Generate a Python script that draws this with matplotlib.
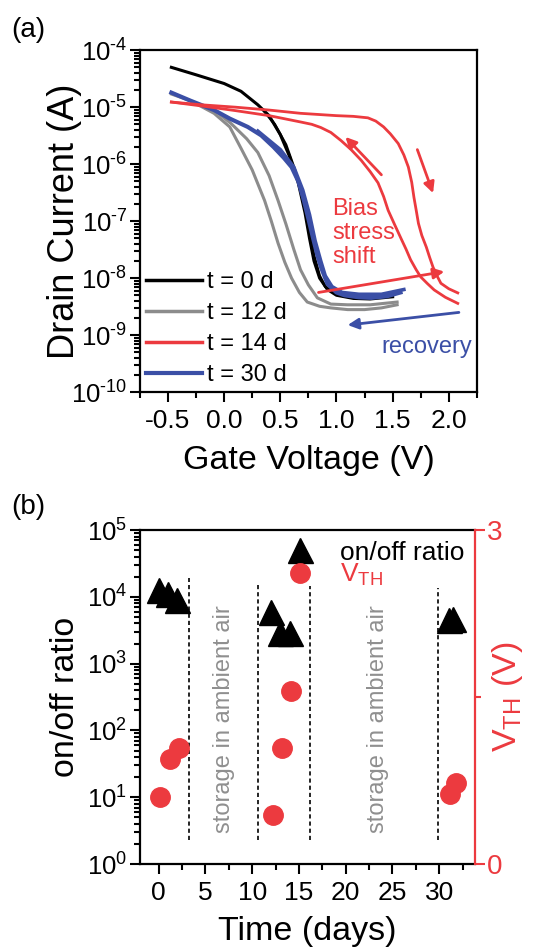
import numpy as np
import matplotlib.pyplot as plt
from matplotlib.lines import Line2D
from matplotlib.ticker import LogLocator, MultipleLocator, NullFormatter, FixedLocator, FuncFormatter

plt.rcParams['font.family'] = ['Liberation Sans', 'DejaVu Sans']
plt.rcParams['mathtext.fontset'] = 'custom'
plt.rcParams['mathtext.rm'] = 'Liberation Sans'
plt.rcParams['mathtext.it'] = 'Liberation Sans:italic'
plt.rcParams['mathtext.bf'] = 'Liberation Sans:bold'

BLACK = '#000000'
GRAY = '#8c8c8c'
RED = '#ec3a3f'
BLUE = '#3b4fa6'

# ---- panel (a): transfer curves, gate voltage (V) / drain current (A) ----
v_t0_a = [-0.47, -0.25, 0.0, 0.15, 0.3, 0.4, 0.5, 0.58, 0.66, 0.72, 0.76, 0.8, 0.85, 0.92, 1.0, 1.15, 1.3, 1.5]
i_t0_a = [5.0e-5, 3.7e-5, 2.6e-5, 1.9e-5, 1.1e-5, 7.1e-6, 3.3e-6, 1.4e-6, 4.7e-7, 1.4e-7,
          5.0e-8, 2.0e-8, 1.0e-8, 6.3e-9, 5.0e-9, 4.4e-9, 4.3e-9, 4.7e-9]
v_t0_b = [0.35, 0.45, 0.55, 0.63, 0.7, 0.76, 0.8, 0.85, 0.9, 1.0, 1.2, 1.5]
i_t0_b = [8.9e-6, 5.0e-6, 2.2e-6, 7.9e-7, 2.5e-7, 7.1e-8, 2.5e-8, 1.1e-8, 7.1e-9, 5.2e-9, 4.7e-9, 5.0e-9]

v_t12_a = [-0.47, -0.3, -0.09, 0.05, 0.15, 0.25, 0.36, 0.42, 0.48, 0.54, 0.6, 0.67, 0.74, 0.85, 0.95,
           1.1, 1.25, 1.4, 1.54]
i_t12_a = [1.7e-5, 1.3e-5, 7.8e-6, 4.5e-6, 1.9e-6, 7.9e-7, 2.3e-7, 1.0e-7, 4.1e-8, 1.9e-8, 1.0e-8,
           5.6e-9, 3.8e-9, 3.2e-9, 3.0e-9, 2.8e-9, 2.8e-9, 3.0e-9, 3.4e-9]
v_t12_b = [-0.09, 0.06, 0.2, 0.3, 0.4, 0.48, 0.55, 0.62, 0.68, 0.75, 0.83, 0.95, 1.1, 1.3, 1.54]
i_t12_b = [8.9e-6, 5.2e-6, 2.8e-6, 1.6e-6, 6.3e-7, 2.3e-7, 8.9e-8, 3.2e-8, 1.4e-8, 7.6e-9, 4.5e-9,
           3.5e-9, 3.4e-9, 3.4e-9, 3.8e-9]

v_t14_fwd = [-0.47, -0.2, 0.1, 0.4, 0.68, 1.0, 1.15, 1.28, 1.35, 1.42, 1.48, 1.55, 1.6, 1.64, 1.67,
             1.69, 1.71, 1.73, 1.76, 1.80, 1.83, 1.86, 1.9, 1.93, 2.0, 2.08]
i_t14_fwd = [1.23e-5, 1.1e-5, 1.0e-5, 8.9e-6, 7.8e-6, 7.1e-6, 6.9e-6, 6.5e-6, 5.7e-6, 4.5e-6, 3.4e-6,
             2.3e-6, 1.45e-6, 8.9e-7, 4.8e-7, 2.6e-7, 1.55e-7, 9.1e-8, 5.6e-8, 3.5e-8, 2.3e-8, 1.55e-8,
             1.05e-8, 8.1e-9, 6.5e-9, 5.5e-9]
v_t14_rev = [-0.47, -0.2, 0.1, 0.4, 0.68, 0.78, 0.86, 0.95, 1.04, 1.13, 1.22, 1.3, 1.37, 1.42, 1.46,
             1.52, 1.57, 1.62, 1.66, 1.71, 1.75, 1.81, 1.87, 1.97, 2.08]
i_t14_rev = [1.23e-5, 1.05e-5, 8.7e-6, 7.1e-6, 5.5e-6, 5.0e-6, 4.4e-6, 3.6e-6, 2.6e-6, 1.8e-6, 1.17e-6,
             7.4e-7, 4.7e-7, 2.7e-7, 1.55e-7, 8.5e-8, 5.2e-8, 3.2e-8, 2.1e-8, 1.4e-8, 1.05e-8, 8.0e-9,
             6.2e-9, 4.6e-9, 3.6e-9]

v_t30_a = [-0.47, -0.3, -0.09, 0.05, 0.21, 0.33, 0.44, 0.53, 0.6, 0.66, 0.71, 0.75, 0.79, 0.83, 0.86,
           0.92, 1.0, 1.07, 1.2, 1.31, 1.45, 1.57]
i_t30_a = [1.8e-5, 1.3e-5, 8.9e-6, 6.3e-6, 4.5e-6, 3.2e-6, 2.0e-6, 1.3e-6, 8.9e-7, 5.0e-7, 2.3e-7,
           1.1e-7, 5.2e-8, 2.5e-8, 1.6e-8, 7.9e-9, 5.6e-9, 5.0e-9, 4.6e-9, 4.5e-9, 4.8e-9, 5.6e-9]
v_t30_b = [0.3, 0.5, 0.62, 0.7, 0.76, 0.81, 0.86, 0.9, 0.96, 1.05, 1.2, 1.4, 1.6]
i_t30_b = [3.8e-6, 1.8e-6, 8.9e-7, 3.5e-7, 1.3e-7, 4.5e-8, 2.0e-8, 1.1e-8, 7.1e-9, 5.6e-9, 5.2e-9,
           5.2e-9, 6.3e-9]

legend_a = ['t = 0 d', 't = 12 d', 't = 14 d', 't = 30 d']

# arrows (tail -> head) in data coords
arrow_rev = [(1.40, 6.5e-7), (1.08, 3.0e-6)]
arrow_fwd = [(1.72, 1.8e-6), (1.86, 3.1e-7)]
arrow_shift = [(0.84, 5.6e-9), (1.96, 1.3e-8)]
arrow_recovery = [(2.09, 2.5e-9), (1.1, 1.5e-9)]

# ---- panel (b): on/off ratio and threshold voltage vs. storage time ----
t_ratio = [0.0, 1.0, 2.0, 12.0, 13.0, 14.0, 31.0, 31.5]
onoff_ratio = [1.25e4, 1.1e4, 8.9e3, 5.9e3, 2.9e3, 2.9e3, 4.5e3, 4.7e3]
t_vth = [0.2, 1.2, 2.2, 12.2, 13.2, 14.2, 31.2, 31.8]
vth = [0.60, 0.94, 1.04, 0.44, 1.04, 1.55, 0.63, 0.73]
storage_bounds = [3.3, 10.6, 16.2, 29.9]
storage_tops = [1.9e4, 1.6e4, 1.45e4, 1.35e4]
storage_text_x = [7.0, 23.5]


def pow10(v, pos):
    e = int(round(np.log10(v)))
    if e < 0:
        return r'$\mathregular{10^{\text{-}%d}}$' % (-e)
    return r'$\mathregular{10^{%d}}$' % e


fig = plt.figure(figsize=(5.34, 9.47), dpi=100)

# ------------------------------------------------------------- (a)
ax = fig.add_axes([0.262, 0.586, 0.631, 0.361])
ax.plot(v_t12_a, i_t12_a, color=GRAY, lw=2.2)
ax.plot(v_t12_b, i_t12_b, color=GRAY, lw=2.2)
ax.plot(v_t0_a, i_t0_a, color=BLACK, lw=2.2)
ax.plot(v_t0_b, i_t0_b, color=BLACK, lw=2.0)
ax.plot(v_t30_a, i_t30_a, color=BLUE, lw=3.0)
ax.plot(v_t30_b, i_t30_b, color=BLUE, lw=2.6)
ax.plot(v_t14_fwd, i_t14_fwd, color=RED, lw=2.0)
ax.plot(v_t14_rev, i_t14_rev, color=RED, lw=2.0)

ax.set_yscale('log')
ax.set_xlim(-0.75, 2.25)
ax.set_ylim(1e-10, 1e-4)
ax.xaxis.set_major_locator(MultipleLocator(0.5))
ax.xaxis.set_minor_locator(MultipleLocator(0.25))
ax.yaxis.set_major_locator(LogLocator(base=10, numticks=10))
ax.yaxis.set_minor_locator(LogLocator(base=10, subs=np.arange(2, 10), numticks=20))
ax.yaxis.set_minor_formatter(NullFormatter())
ax.yaxis.set_major_formatter(FuncFormatter(pow10))
ax.xaxis.set_major_formatter(FuncFormatter(lambda v, p: f'{v:.1f}'))

for tail, head, col in [(arrow_rev[0], arrow_rev[1], RED), (arrow_fwd[0], arrow_fwd[1], RED),
                        (arrow_shift[0], arrow_shift[1], RED), (arrow_recovery[0], arrow_recovery[1], BLUE)]:
    ax.annotate('', xy=head, xytext=tail,
                arrowprops=dict(arrowstyle='-|>', color=col, lw=2.0, mutation_scale=16,
                                shrinkA=0, shrinkB=0))

ax.text(0.96, 6.2e-8, 'Bias\nstress\nshift', color=RED, fontsize=17, ha='left', va='center',
        linespacing=1.1)
ax.text(1.40, 6.2e-10, 'recovery', color=BLUE, fontsize=17, ha='left', va='center')

handles = [Line2D([], [], color=c, lw=w) for c, w in [(BLACK, 2.5), (GRAY, 2.5), (RED, 2.5), (BLUE, 3.0)]]
ax.legend(handles, legend_a, loc='lower left', frameon=False, fontsize=17, handlelength=2.4,
          handletextpad=0.2, labelspacing=0.38, borderaxespad=0.0, borderpad=0.25,
          bbox_to_anchor=(0.0, 0.0))

ax.set_xlabel('Gate Voltage (V)', fontsize=24.5, labelpad=9)
ax.set_ylabel('Drain Current (A)', fontsize=26)
ax.yaxis.set_label_coords(-0.172, 0.5)

# ------------------------------------------------------------- (b)
bx = fig.add_axes([0.262, 0.0876, 0.627, 0.3527])
bx.set_yscale('log')
bx.set_xlim(-2, 33.8)
bx.set_ylim(1, 1e5)
bx.vlines(storage_bounds, 2.3, storage_tops, colors='black', linestyles=(0, (2.5, 1.8)), lw=1.2)
for x in storage_text_x:
    bx.text(x, 1.5e2, 'storage in ambient air', rotation=90, color='#8f8f8f', fontsize=17,
            ha='center', va='center')
bx.plot(t_ratio, onoff_ratio, linestyle='none', marker='^', ms=18, color='black')
bx.xaxis.set_major_locator(MultipleLocator(5))
bx.xaxis.set_minor_locator(MultipleLocator(2.5))
bx.yaxis.set_major_locator(LogLocator(base=10, numticks=10))
bx.yaxis.set_minor_locator(LogLocator(base=10, subs=np.arange(2, 10), numticks=20))
bx.yaxis.set_minor_formatter(NullFormatter())
bx.yaxis.set_major_formatter(FuncFormatter(pow10))
bx.set_xlabel('Time (days)', fontsize=24.5, labelpad=8)
bx.set_ylabel('on/off ratio', fontsize=24.5)
bx.yaxis.set_label_coords(-0.175, 0.5)
bx.spines['right'].set_visible(False)

tx = bx.twinx()
tx.set_ylim(0, 3)
tx.plot(t_vth, vth, linestyle='none', marker='o', ms=14, color=RED)
tx.yaxis.set_major_locator(FixedLocator([0, 3]))
tx.yaxis.set_minor_locator(FixedLocator([1.5]))
tx.spines['right'].set_color(RED)
tx.spines['right'].set_linewidth(1.6)
tx.spines['left'].set_visible(False)
tx.spines['top'].set_visible(False)
tx.spines['bottom'].set_visible(False)
tx.tick_params(axis='y', which='both', colors=RED, labelsize=20, direction='out', width=1.5, pad=2)
tx.tick_params(axis='y', which='major', length=7)
tx.tick_params(axis='y', which='minor', length=4)
tx.set_ylabel(r'V$_{\mathrm{TH}}$ (V)', color=RED, fontsize=24.5)
tx.yaxis.set_label_coords(1.045, 0.5)

leg_handles = [Line2D([], [], linestyle='none', marker='^', ms=18, color='black'),
               Line2D([], [], linestyle='none', marker='o', ms=14, color=RED)]
leg = tx.legend(leg_handles, ['on/off ratio', r'V$_{\mathrm{TH}}$'], loc='upper right', frameon=False,
                fontsize=19, handletextpad=0.9, labelspacing=-0.1, borderaxespad=0.0,
                bbox_to_anchor=(1.0, 1.0), handlelength=1.2)
leg.get_texts()[1].set_color(RED)

for a in (ax, bx):
    for s in a.spines.values():
        s.set_linewidth(1.6)
    a.tick_params(which='both', direction='out', width=1.5, labelsize=19, top=False, right=False)
    a.tick_params(which='major', length=7)
    a.tick_params(which='minor', length=4)
    a.tick_params(axis='y', labelsize=18.5, pad=2)
    a.tick_params(axis='x', pad=5)

fig.text(0.022, 0.968, '(a)', fontsize=20, ha='left', va='center')
fig.text(0.022, 0.465, '(b)', fontsize=20, ha='left', va='center')

fig.savefig('out.png', dpi=100)
